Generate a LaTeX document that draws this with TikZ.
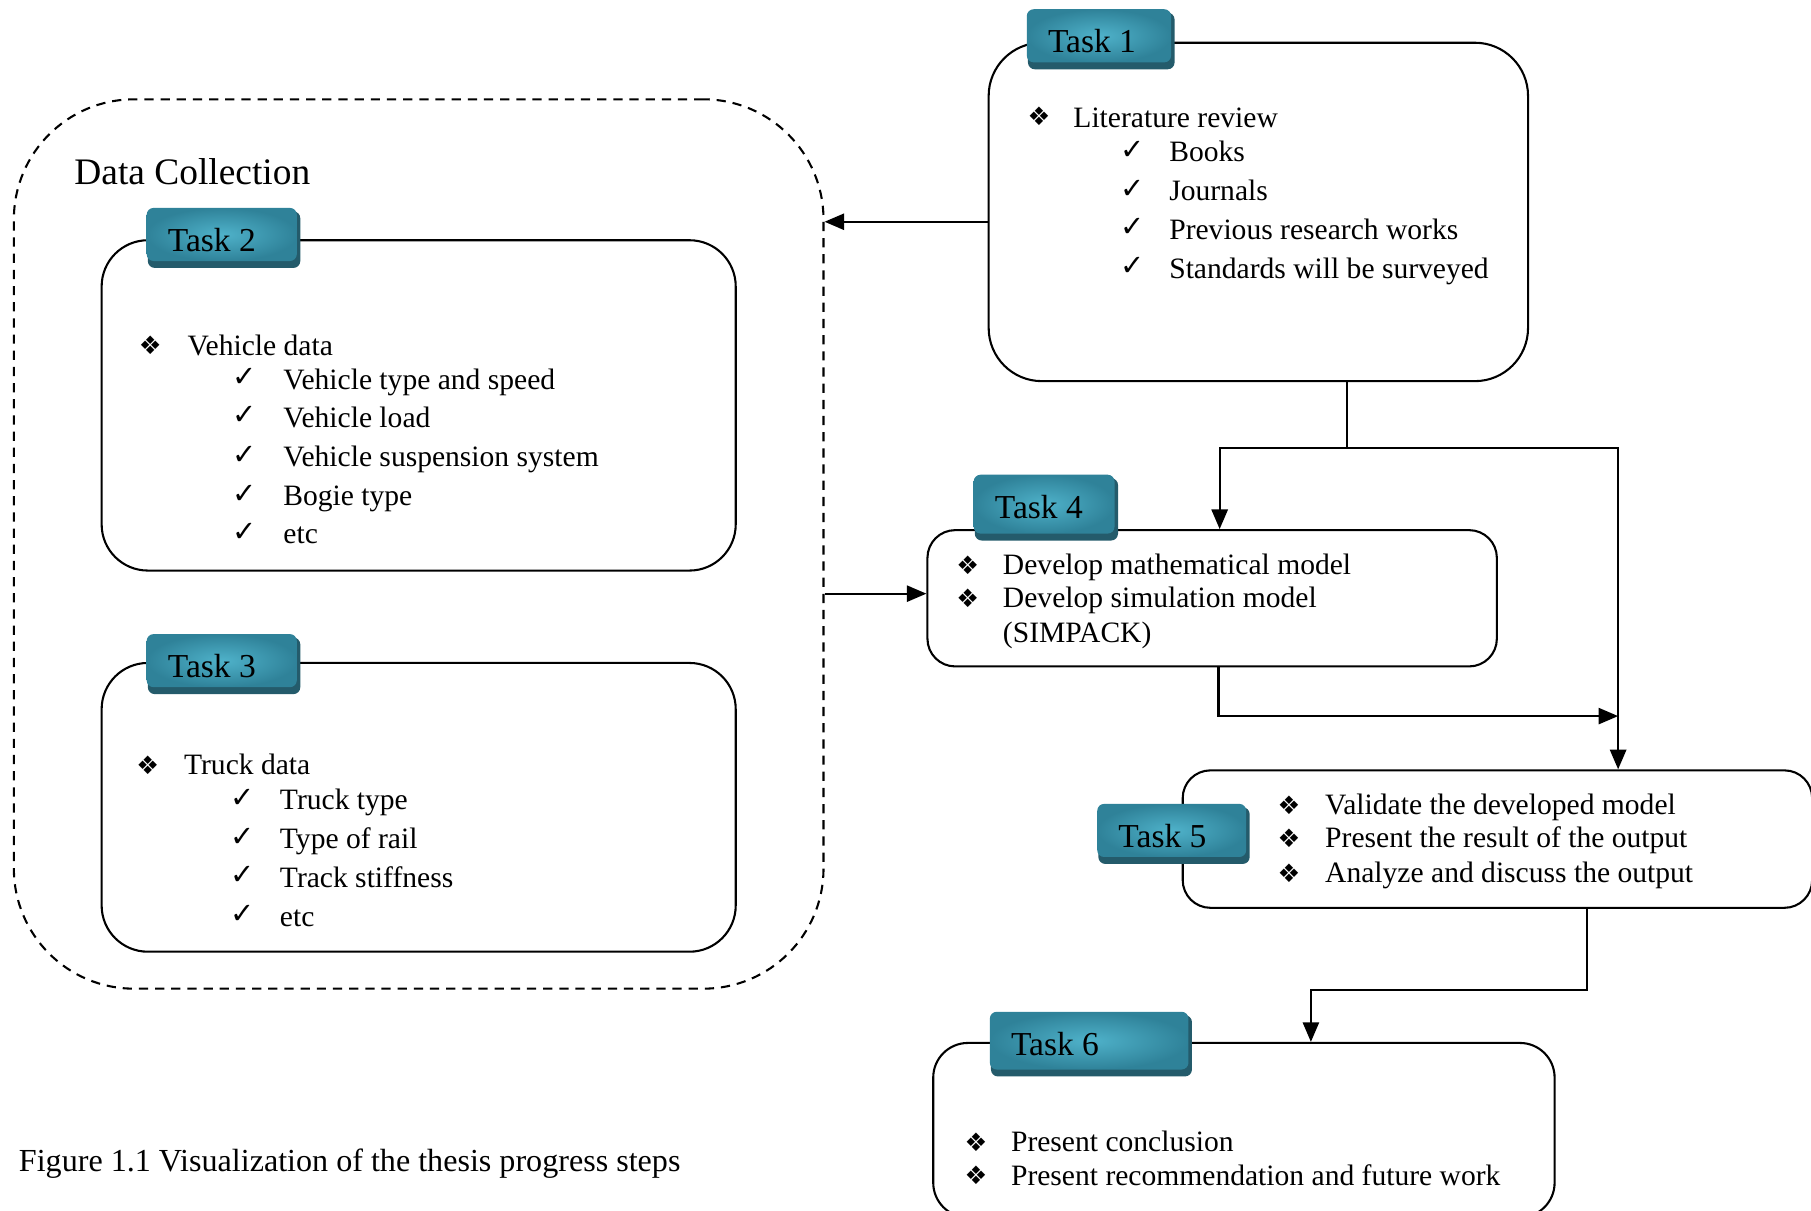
\documentclass[tikz,border=0pt]{standalone}
\usepackage{fontspec}
\setmainfont{Liberation Serif}
\newfontfamily\symfont{DejaVu Sans}
\usetikzlibrary{arrows.meta,fit,calc}
\definecolor{tabin}{HTML}{4FB2CA}
\definecolor{tabout}{HTML}{2F8299}
\definecolor{tabsh}{HTML}{245B6B}
\newcommand\tasktab[6]{%
  \fill[tabsh, rounded corners=3pt] (#2+1,#3+3) rectangle (#4,#5);
  \shade[inner color=tabin, outer color=tabout, rounded corners=3pt] (#2,#3) rectangle (#4-3,#5-6);
  \node[tablabel] (#1) at (#2+18,#3+37.5) {#6};
}
\begin{document}
\begin{tikzpicture}[x=0.5pt,y=-0.5pt,
  taskbox/.style={draw, line width=0.9pt, inner sep=0pt, rounded corners=#1},
  dcbox/.style={draw, line width=0.9pt, inner sep=0pt, rounded corners=52pt, dash pattern=on 4pt off 3pt},
  txt/.style={anchor=base west, inner sep=0pt, font=\fontsize{12.8}{15}\selectfont},
  tablabel/.style={anchor=base west, inner sep=0pt, font=\fontsize{14.5}{17}\selectfont},
  bul/.style={inner sep=0pt, font=\symfont\fontsize{11}{11}\selectfont},
  chk/.style={inner sep=0pt, font=\symfont\fontsize{12.5}{12.5}\selectfont},
  conn/.style={line width=1pt},
  arr/.style={line width=1pt, -{Triangle[length=8.5pt,width=7pt]}}
]
\useasboundingbox (0,0) rectangle (1568,1048);
\fill[white] (0,0) rectangle (1568,1048);

% ---------- boxes ----------
\node[dcbox, fit={(12,86) (713,856)}] (dc) {};
\node[taskbox=23pt, fit={(856,37) (1323,330)}] (t1) {};
\node[taskbox=20pt, fit={(88,208) (637,494)}] (t2) {};
\node[taskbox=20pt, fit={(88,574) (637,824)}] (t3) {};
\node[taskbox=12pt, fit={(803,459) (1296,577)}] (t4) {};
\node[taskbox=12pt, fit={(1024,667) (1569,786)}] (t5) {};
\node[taskbox=15pt, fit={(808,903) (1346,1054)}] (t6) {};

% ---------- tabs ----------
\tasktab{tab1}{889}{8}{1017}{60}{Task 1}
\tasktab{tab2}{127}{180}{260}{232}{Task 2}
\tasktab{tab3}{127}{549}{260}{601}{Task 3}
\tasktab{tab4}{843}{411}{968}{468}{Task 4}
\tasktab{tab5}{950}{696}{1082}{748}{Task 5}
\tasktab{tab6}{857}{876}{1032}{932}{Task 6}

% ---------- titles ----------
\node[anchor=base west, inner sep=0pt, font=\fontsize{16.2}{19}\selectfont] (dctitle) at (64,160) {Data Collection};
\node[anchor=base west, inner sep=0pt, font=\fontsize{13.9}{16}\selectfont] (caption) at (16,1014) {Figure 1.1 Visualization of the thesis progress steps};

% ---------- Task 1 ----------
\node[bul] (b1) at (899.5,101) {❖};
\node[txt] (l1) at (929,110) {Literature review};
\node[chk] (c11) at (981,130) {✓}; \node[txt] (l11) at (1012,140) {Books};
\node[chk] (c12) at (981,164) {✓}; \node[txt] (l12) at (1012,174) {Journals};
\node[chk] (c13) at (981,197) {✓}; \node[txt] (l13) at (1012,207) {Previous research works};
\node[chk] (c14) at (981,231) {✓}; \node[txt] (l14) at (1012,241) {Standards will be surveyed};

% ---------- Task 2 ----------
\node[bul] (b2) at (130,299) {❖};
\node[txt] (l2) at (162,308) {Vehicle data};
\node[chk] (c21) at (212,327) {✓}; \node[txt] (l21) at (245,337) {Vehicle type and speed};
\node[chk] (c22) at (212,360) {✓}; \node[txt] (l22) at (245,370) {Vehicle load};
\node[chk] (c23) at (212,394) {✓}; \node[txt] (l23) at (245,404) {Vehicle suspension system};
\node[chk] (c24) at (212,428) {✓}; \node[txt] (l24) at (245,438) {Bogie type};
\node[chk] (c25) at (212,461) {✓}; \node[txt] (l25) at (245,471) {etc};

% ---------- Task 3 ----------
\node[bul] (b3) at (128,663) {❖};
\node[txt] (l3) at (159,671) {Truck data};
\node[chk] (c31) at (210,691) {✓}; \node[txt] (l31) at (242,701) {Truck type};
\node[chk] (c32) at (210,725) {✓}; \node[txt] (l32) at (242,735) {Type of rail};
\node[chk] (c33) at (210,758) {✓}; \node[txt] (l33) at (242,768) {Track stiffness};
\node[chk] (c34) at (210,792) {✓}; \node[txt] (l34) at (242,802) {etc};

% ---------- Task 4 ----------
\node[bul] (b41) at (838,489) {❖}; \node[txt] (l41) at (868,497) {Develop mathematical model};
\node[bul] (b42) at (838,518) {❖}; \node[txt] (l42) at (868,526) {Develop simulation model};
\node[txt] (l43) at (868,556) {(SIMPACK)};

% ---------- Task 5 ----------
\node[bul] (b51) at (1116,697) {❖}; \node[txt] (l51) at (1147,705) {Validate the developed model};
\node[bul] (b52) at (1116,726) {❖}; \node[txt] (l52) at (1147,734) {Present the result of the output};
\node[bul] (b53) at (1116,756) {❖}; \node[txt] (l53) at (1147,764) {Analyze and discuss the output};

% ---------- Task 6 ----------
\node[bul] (b61) at (845,989) {❖}; \node[txt] (l61) at (875,997) {Present conclusion};
\node[bul] (b62) at (845,1018) {❖}; \node[txt] (l62) at (875,1026) {Present recommendation and future work};

% ---------- connectors ----------
\coordinate (a1) at (0,192);
\coordinate (a2) at (0,514);
\coordinate (j1) at (1166,388);
\coordinate (j2) at (1056,388);
\coordinate (j3) at (1401,388);
\coordinate (j4) at (1055,620);
\coordinate (j5) at (1374,857);
\coordinate (j6) at (1135,857);
\draw[arr] (t1.west |- a1) -- (dc.east |- a1);
\draw[arr] (dc.east |- a2) -- (t4.west |- a2);
\draw[conn] (t1.south -| j1) -- (j1);
\draw[arr] (j1) -- (j2) -- (t4.north -| j2);
\draw[arr] (j1) -- (j3) -- (t5.north -| j3);
\draw[arr] (t4.south -| j4) -- (j4) -- (j4 -| j3);
\draw[arr] (t5.south -| j5) -- (j5) -- (j6) -- (t6.north -| j6);
\end{tikzpicture}
\end{document}
